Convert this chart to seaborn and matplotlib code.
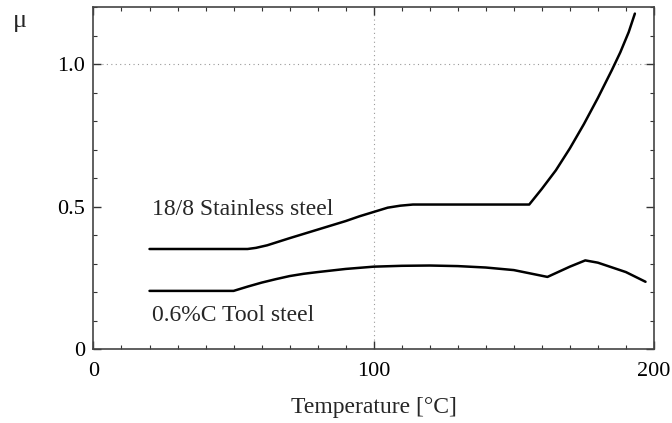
import numpy as np
import pandas as pd
import matplotlib
matplotlib.use('Agg')
import matplotlib.pyplot as plt
import seaborn as sns
from matplotlib.ticker import MultipleLocator

# values
stainless_temp = [20, 55, 58, 62, 70, 80, 90, 95, 100, 105, 109.5, 114, 155.5,
                  160, 165, 170, 175, 180, 185, 188, 191, 193.2]
stainless_mu = [0.352, 0.352, 0.356, 0.365, 0.390, 0.420, 0.450, 0.467, 0.482,
                0.497, 0.504, 0.508, 0.508, 0.563, 0.628, 0.705, 0.790, 0.882,
                0.980, 1.042, 1.113, 1.178]

tool_temp = [20, 50, 55, 60, 65, 70, 75, 80, 90, 100, 110, 120, 130, 140, 150,
             162, 170, 175.5, 180, 190, 197]
tool_mu = [0.205, 0.205, 0.220, 0.234, 0.246, 0.257, 0.265, 0.271, 0.282,
           0.290, 0.293, 0.294, 0.292, 0.287, 0.278, 0.254, 0.290, 0.312,
           0.304, 0.271, 0.237]

df = pd.concat([
    pd.DataFrame({'Temperature': stainless_temp, 'mu': stainless_mu,
                  'steel': '18/8 Stainless steel'}),
    pd.DataFrame({'Temperature': tool_temp, 'mu': tool_mu,
                  'steel': '0.6%C Tool steel'}),
])

sns.set_theme(style="ticks")
plt.rcParams['font.family'] = ['Liberation Serif', 'DejaVu Serif']

fig = plt.figure(figsize=(6.72, 4.23), dpi=100)
ax = fig.add_axes([0.1391, 0.1742, 0.834, 0.8085])

ax.axvline(100, color='#999999', lw=0.8, ls=(0, (1, 3)), zorder=0)
ax.axhline(1.0, color='#999999', lw=0.8, ls=(0, (1, 3)), zorder=0)

sns.lineplot(data=df, x='Temperature', y='mu', hue='steel',
             palette=['black', 'black'], lw=1.8, legend=False, ax=ax)

ax.set_xlim(0, 200)
ax.set_ylim(0, 1.2)
ax.xaxis.set_minor_locator(MultipleLocator(10))
ax.yaxis.set_minor_locator(MultipleLocator(0.1))
ax.set_xticks([0, 100, 200])
ax.set_xticklabels(['0', '100', '200'])
ax.set_yticks([0, 0.5, 1.0])
ax.set_yticklabels(['0', '0.5', '1.0'])

ax.tick_params(which='both', direction='in', top=True, right=True,
               colors='#333333', labelcolor='black', labelsize=16)
ax.tick_params(which='major', length=6, width=1)
ax.tick_params(which='minor', length=3, width=0.8)
ax.tick_params(axis='x', pad=9)
ax.tick_params(axis='y', pad=6)
for s in ax.spines.values():
    s.set_color('#444444')
    s.set_linewidth(1.2)

ax.set_xlabel('Temperature [°C]', fontsize=17, labelpad=12)
ax.set_ylabel('')

ax.text(21, 0.471, '18/8 Stainless steel', fontsize=17)
ax.text(20.8, 0.100, '0.6%C Tool steel', fontsize=17)
fig.text(13 / 672, 1 - 27 / 423, 'μ', fontsize=19)

fig.savefig('out.png', dpi=100)
